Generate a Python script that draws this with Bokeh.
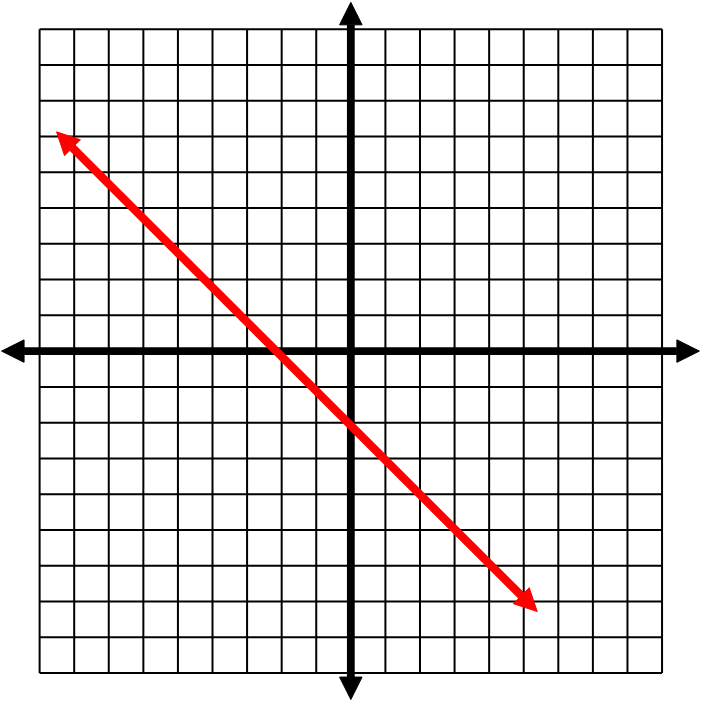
from bokeh.plotting import figure
from bokeh.models import Range1d, Arrow, NormalHead
from bokeh.embed import file_html
from bokeh.resources import INLINE

# grid ticks, -9..9 on both axes
grid_ticks = list(range(-9, 10))
grid_lo, grid_hi = -9, 9

# axis extents (arrow tips)
x_axis_x = [-10.10, 10.08]
y_axis_y = [-9.74, 9.75]

# the red line, arrow tip to arrow tip
line_x = [-8.51, 5.39]
line_y = [6.13, -7.28]

p = figure(width=700, height=702, output_backend="svg", toolbar_location=None,
           x_range=Range1d(-10.131, 10.112), y_range=Range1d(-9.822, 9.801),
           min_border=0)
p.axis.visible = False
p.grid.visible = False
p.outline_line_color = None
p.background_fill_color = "white"
p.border_fill_color = "white"

# grid
p.segment(x0=grid_ticks, y0=[grid_lo] * len(grid_ticks), x1=grid_ticks, y1=[grid_hi] * len(grid_ticks),
          line_color="black", line_width=2)
p.segment(x0=[grid_lo] * len(grid_ticks), y0=grid_ticks, x1=[grid_hi] * len(grid_ticks), y1=grid_ticks,
          line_color="black", line_width=2)


def head(color):
    return NormalHead(size=22.5, fill_color=color, line_color=color, line_width=1)


# axes
p.add_layout(Arrow(start=head("black"), end=head("black"), x_start=x_axis_x[0], y_start=0,
                   x_end=x_axis_x[1], y_end=0, line_color="black", line_width=7.8))
p.add_layout(Arrow(start=head("black"), end=head("black"), x_start=0, y_start=y_axis_y[0],
                   x_end=0, y_end=y_axis_y[1], line_color="black", line_width=7.8))

# red line
p.add_layout(Arrow(start=head("red"), end=head("red"), x_start=line_x[0], y_start=line_y[0],
                   x_end=line_x[1], y_end=line_y[1], line_color="red", line_width=8.3))

open("out.html", "w").write(file_html(p, INLINE))
